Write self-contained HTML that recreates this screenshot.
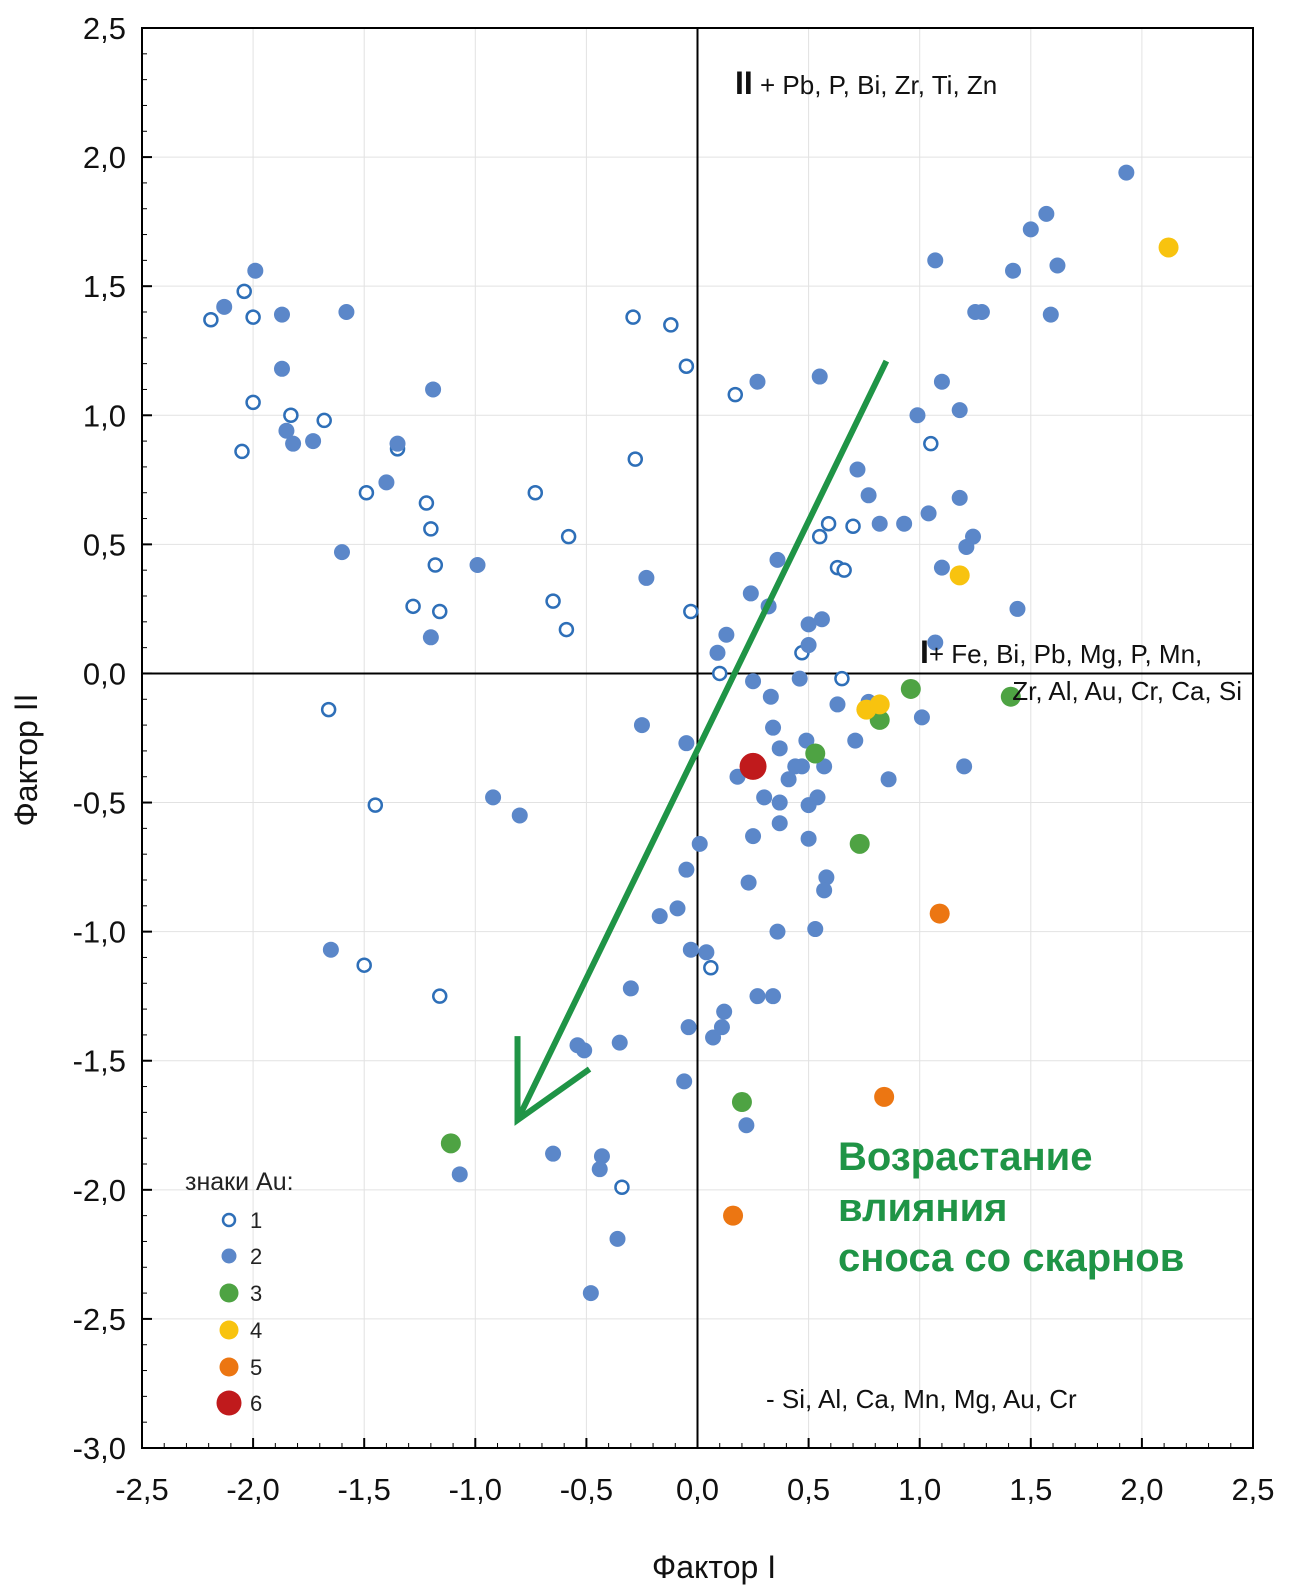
<!DOCTYPE html>
<html><head><meta charset="utf-8"><style>
body{margin:0;background:#fff;}
svg text{font-family:"Liberation Sans",sans-serif;}
</style></head><body>
<svg id="chart" width="1306" height="1587" viewBox="0 0 1306 1587" xmlns="http://www.w3.org/2000/svg">
<g id="grid"></g>
<g id="axes"></g>
<g id="marks"></g>
<g id="ann"></g>
</svg>
<script>
const xTicks=[-2.5,-2.0,-1.5,-1.0,-0.5,0.0,0.5,1.0,1.5,2.0,2.5];
const yTicks=[2.5,2.0,1.5,1.0,0.5,0.0,-0.5,-1.0,-1.5,-2.0,-2.5,-3.0];
const s1x=[-2.19,-2.04,-2.00,-1.83,-2.00,-2.05,-1.68,-1.35,-1.49,-1.22,-1.20,-1.18,-1.28,-1.16,-0.73,-0.58,-0.65,-0.59,-0.29,-0.12,-0.05,-0.28,-0.03,0.17,1.05,0.59,0.55,0.70,0.63,0.66,0.47,0.10,0.65,-1.66,-1.45,0.06,-1.16,-1.50,-0.34];
const s1y=[1.37,1.48,1.38,1.00,1.05,0.86,0.98,0.87,0.70,0.66,0.56,0.42,0.26,0.24,0.70,0.53,0.28,0.17,1.38,1.35,1.19,0.83,0.24,1.08,0.89,0.58,0.53,0.57,0.41,0.40,0.08,0.00,-0.02,-0.14,-0.51,-1.14,-1.25,-1.13,-1.99];
const s2x=[-1.99,-2.13,-1.87,-1.58,-1.87,-1.85,-1.82,-1.73,-1.35,-1.40,-1.19,-1.60,-0.99,-1.20,-0.23,0.13,0.09,0.24,0.32,0.27,0.55,0.36,0.50,0.56,0.50,0.46,0.25,0.33,0.34,0.37,-0.25,-0.05,0.18,0.30,0.41,0.37,0.44,0.49,0.47,0.57,0.50,0.54,0.37,0.50,0.25,0.01,-0.05,0.23,-0.09,-0.17,0.58,0.57,0.53,0.36,-0.03,0.04,0.12,0.11,0.07,0.27,0.34,-0.30,-0.04,-0.35,-0.54,-0.51,-0.06,0.22,-0.65,-0.43,-0.44,-0.36,-0.48,-1.07,-0.92,-0.80,-1.65,0.63,0.71,0.86,1.01,0.72,0.77,0.82,0.93,1.10,0.99,1.04,1.18,1.18,1.21,1.24,1.10,1.07,1.44,1.20,0.77,1.07,1.25,1.28,1.42,1.50,1.57,1.62,1.59,1.93];
const s2y=[1.56,1.42,1.39,1.40,1.18,0.94,0.89,0.90,0.89,0.74,1.10,0.47,0.42,0.14,0.37,0.15,0.08,0.31,0.26,1.13,1.15,0.44,0.19,0.21,0.11,-0.02,-0.03,-0.09,-0.21,-0.29,-0.20,-0.27,-0.40,-0.48,-0.41,-0.50,-0.36,-0.26,-0.36,-0.36,-0.51,-0.48,-0.58,-0.64,-0.63,-0.66,-0.76,-0.81,-0.91,-0.94,-0.79,-0.84,-0.99,-1.00,-1.07,-1.08,-1.31,-1.37,-1.41,-1.25,-1.25,-1.22,-1.37,-1.43,-1.44,-1.46,-1.58,-1.75,-1.86,-1.87,-1.92,-2.19,-2.40,-1.94,-0.48,-0.55,-1.07,-0.12,-0.26,-0.41,-0.17,0.79,0.69,0.58,0.58,1.13,1.00,0.62,1.02,0.68,0.49,0.53,0.41,0.12,0.25,-0.36,-0.11,1.60,1.40,1.40,1.56,1.72,1.78,1.58,1.39,1.94];
const s3x=[-1.11,0.20,0.53,0.73,0.82,0.96,1.41];
const s3y=[-1.82,-1.66,-0.31,-0.66,-0.18,-0.06,-0.09];
const s4x=[2.12,1.18,0.76,0.82];
const s4y=[1.65,0.38,-0.14,-0.12];
const s5x=[1.09,0.84,0.16];
const s5y=[-0.93,-1.64,-2.10];
const s6x=[0.25];
const s6y=[-0.36];
const arrowFrom=[0.85,1.21], arrowTo=[-0.81,-1.73];

const L=142,R=1253,T=28,B=1448;
const sx=v=>L+(v+2.5)/5*(R-L);
const sy=v=>T+(2.5-v)/5.5*(B-T);
const NS='http://www.w3.org/2000/svg';
function mk(parent,tag,attrs){const e=document.createElementNS(NS,tag);for(const k in attrs)e.setAttribute(k,attrs[k]);parent.appendChild(e);return e;}
const grid=document.getElementById('grid'),axes=document.getElementById('axes'),marks=document.getElementById('marks'),ann=document.getElementById('ann');

xTicks.forEach(v=>{
 const g=mk(grid,'line',{x1:sx(v),x2:sx(v),y1:T,y2:B,stroke:'#e2e2e2','stroke-width':1});
 
 
 const t=mk(axes,'text',{x:sx(v),y:1500,'text-anchor':'middle','font-size':31,fill:'#111'});
 t.textContent=v.toFixed(1).replace('.',',');
 
 
 mk(axes,'line',{x1:sx(v),x2:sx(v),y1:B,y2:B-10,stroke:'#000','stroke-width':2});
});
yTicks.forEach(v=>{
 const g=mk(grid,'line',{x1:L,x2:R,y1:sy(v),y2:sy(v),stroke:'#e2e2e2','stroke-width':1});
 
 
 const t=mk(axes,'text',{x:126,y:sy(v)+11,'text-anchor':'end','font-size':31,fill:'#111'});
 t.textContent=v.toFixed(1).replace('.',',');
 
 
 mk(axes,'line',{x1:L,x2:L+10,y1:sy(v),y2:sy(v),stroke:'#000','stroke-width':2});
});
for(let v=-3;v<=2.5001;v+=0.1){mk(axes,'line',{x1:L,x2:L+5,y1:sy(v),y2:sy(v),stroke:'#000','stroke-width':1});}
for(let v=-2.5;v<=2.5001;v+=0.1){mk(axes,'line',{x1:sx(v),x2:sx(v),y1:B,y2:B-5,stroke:'#000','stroke-width':1});}
const fr=mk(axes,'rect',{x:L,y:T,width:R-L,height:B-T,fill:'none',stroke:'#000','stroke-width':2});


const z1=mk(axes,'line',{x1:sx(0),x2:sx(0),y1:T,y2:B,stroke:'#000','stroke-width':2});


const z2=mk(axes,'line',{x1:L,x2:R,y1:sy(0),y2:sy(0),stroke:'#000','stroke-width':2});



function series(xs,ys,name,r,fill,stroke,sw){
 xs.forEach((x,i)=>{
  const c=mk(marks,'circle',{cx:sx(x),cy:sy(ys[i]),r:r,fill:fill,stroke:stroke,'stroke-width':sw});
  
  
 });
}
series(s1x,s1y,'point-sign-1',6.5,'#fff','#2e6fb8',2.5);
series(s2x,s2y,'point-sign-2',8,'#5b87c9','none',0);
series(s3x,s3y,'point-sign-3',10,'#4ea343','none',0);
series(s4x,s4y,'point-sign-4',10,'#f8c30f','none',0);
series(s5x,s5y,'point-sign-5',10,'#ec7612','none',0);
series(s6x,s6y,'point-sign-6',13.5,'#c01a1c','none',0);

// arrow
const ax1=sx(arrowFrom[0]),ay1=sy(arrowFrom[1]),ax2=sx(arrowTo[0]),ay2=sy(arrowTo[1]);
const ar=mk(ann,'g',{});


mk(ar,'line',{x1:ax1,y1:ay1,x2:ax2,y2:ay2,stroke:'#1f9446','stroke-width':6});
mk(ar,'polyline',{points:`${ax2},${ay2-84} ${ax2},${ay2} ${ax2+72},${ay2-51}`,fill:'none',stroke:'#1f9446','stroke-width':6});
</script>
<svg style="position:absolute;left:0;top:0" width="1306" height="1587">
<text x="714" y="1578" text-anchor="middle" font-size="32" font-family="Liberation Sans, sans-serif" fill="#111">Фактор I</text>
<text transform="translate(37,760) rotate(-90)" text-anchor="middle" font-size="32" font-family="Liberation Sans, sans-serif" fill="#111">Фактор II</text>
<text x="735" y="94" font-size="26" font-family="Liberation Sans, sans-serif" fill="#111"><tspan font-weight="bold" font-size="32">II</tspan> + Pb, P, Bi, Zr, Ti, Zn</text>
<text x="920" y="663" font-size="26" font-family="Liberation Sans, sans-serif" fill="#111"><tspan font-weight="bold" font-size="32">I</tspan>+ Fe, Bi, Pb, Mg, P, Mn,</text>
<text x="1242" y="700" text-anchor="end" font-size="26" font-family="Liberation Sans, sans-serif" fill="#111">Zr, Al, Au, Cr, Ca, Si</text>
<text x="766" y="1408" font-size="26" font-family="Liberation Sans, sans-serif" fill="#111">- Si, Al, Ca, Mn, Mg, Au, Cr</text>
<g font-size="40" font-weight="bold" font-family="Liberation Sans, sans-serif" fill="#1f9446">
<text x="838" y="1170">Возрастание</text><text x="838" y="1221">влияния</text><text x="838" y="1271">сноса со скарнов</text></g>
<g font-family="Liberation Sans, sans-serif" font-size="22" fill="#222">
<text x="185" y="1190" font-size="25">знаки Au:</text>
<circle cx="229" cy="1220" r="6" fill="#fff" stroke="#2e6fb8" stroke-width="2.5"/><text x="250" y="1228">1</text>
<circle cx="229" cy="1256" r="7.5" fill="#5b87c9"/><text x="250" y="1264">2</text>
<circle cx="229" cy="1293" r="9.5" fill="#4ea343"/><text x="250" y="1301">3</text>
<circle cx="229" cy="1330" r="9.5" fill="#f8c30f"/><text x="250" y="1338">4</text>
<circle cx="229" cy="1367" r="9.5" fill="#ec7612"/><text x="250" y="1375">5</text>
<circle cx="229" cy="1403" r="12.5" fill="#c01a1c"/><text x="250" y="1411">6</text>
</g>
</svg>
</body></html>
